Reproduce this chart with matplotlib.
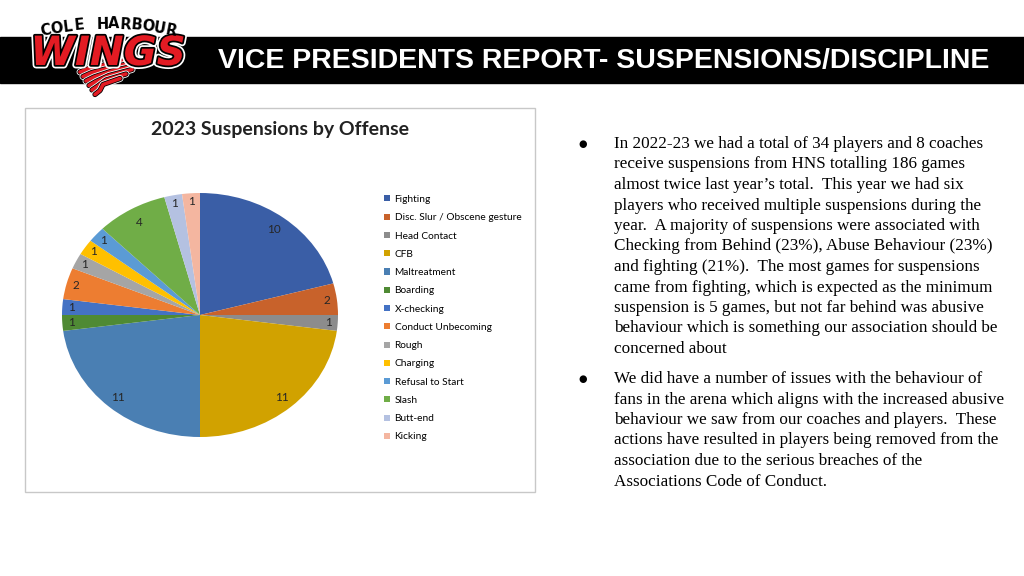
import numpy as np
import matplotlib
matplotlib.use("Agg")
import matplotlib.pyplot as plt
import matplotlib.patheffects as pe
from matplotlib.patches import Rectangle

# chart data
offenses = ["Fighting", "Disc. Slur / Obscene gesture", "Head Contact", "CFB",
            "Maltreatment", "Boarding", "X-checking", "Conduct Unbecoming",
            "Rough", "Charging", "Refusal to Start", "Slash", "Butt-end", "Kicking"]
counts = [10, 2, 1, 11, 11, 1, 1, 2, 1, 1, 1, 4, 1, 1]
colors = ["#3A5EA6", "#C8622B", "#8C8C8C", "#D1A200", "#4A7FB3", "#4F8A34",
          "#4472C4", "#ED7D31", "#A5A5A5", "#FFC000", "#5B9BD5", "#70AD47",
          "#B4C1E1", "#F4B6A0"]

title = "VICE PRESIDENTS REPORT- SUSPENSIONS/DISCIPLINE"
chart_title = "2023 Suspensions by Offense"
bullet1 = ["In 2022-23 we had a total of 34 players and 8 coaches",
           "receive suspensions from HNS totalling 186 games",
           "almost twice last year\u2019s total.  This year we had six",
           "players who received multiple suspensions during the",
           "year.  A majority of suspensions were associated with",
           "Checking from Behind (23%), Abuse Behaviour (23%)",
           "and fighting (21%).  The most games for suspensions",
           "came from fighting, which is expected as the minimum",
           "suspension is 5 games, but not far behind was abusive",
           "behaviour which is something our association should be",
           "concerned about"]
bullet2 = ["We did have a number of issues with the behaviour of",
           "fans in the arena which aligns with the increased abusive",
           "behaviour we saw from our coaches and players.  These",
           "actions have resulted in players being removed from the",
           "association due to the serious breaches of the",
           "Associations Code of Conduct."]

fig = plt.figure(figsize=(10.24, 5.76), dpi=100)
bg = fig.add_axes([0, 0, 1, 1])
bg.set_xlim(0, 1024)
bg.set_ylim(576, 0)
bg.axis("off")

# header banner
bg.add_patch(Rectangle((0, 37), 1024, 46, color="black"))
bg.text(218, 61, title, color="white", fontsize=20.5, fontweight="bold",
        family="Liberation Sans", va="center", ha="left")

# logo (rough)
red = "#E31B23"
for k in range(6):
    y0 = 60 + k * 4.5
    bg.plot([150 - k * 6, 118 - k * 3, 90 + k * 2, 80 + k * 3],
            [y0 - 4, y0 + 2, y0 + 8, y0 + 12],
            color=red, lw=2.6, solid_capstyle="round", zorder=3,
            path_effects=[pe.Stroke(linewidth=5, foreground="white"),
                          pe.Stroke(linewidth=3.8, foreground="black"), pe.Normal()])
bg.text(108, 54, "WINGS", color=red, fontsize=29, fontweight="heavy",
        style="italic", family="DejaVu Sans", ha="center", va="center", zorder=4,
        path_effects=[pe.Stroke(linewidth=5, foreground="white"),
                      pe.Stroke(linewidth=2.5, foreground="black"), pe.Normal()])
word = "COLE HARBOUR"
rad = 320
for i, ch in enumerate(word):
    ang = (i - (len(word) - 1) / 2) * 11.5 / rad
    x = 108 + rad * np.sin(ang)
    y = 24 + rad - rad * np.cos(ang)
    bg.text(x, y, ch, fontsize=10.5, fontweight="heavy", family="DejaVu Sans",
            ha="center", va="center", rotation=-np.degrees(ang), zorder=4)

# chart frame
bg.add_patch(Rectangle((25, 108), 510, 384, fill=False, edgecolor="#C8C8C8", lw=1))
bg.text(280, 130, chart_title, fontsize=14, fontweight="bold", family="Lato",
        ha="center", va="center", color="#222222")

# pie
ax = fig.add_axes([62 / 1024, 1 - 437 / 576, 276 / 1024, 244 / 576])
wedges, _ = ax.pie(counts, colors=colors, startangle=90, counterclock=False,
                   radius=1)
ax.set_aspect("auto")
ax.set_xlim(-1, 1)
ax.set_ylim(-1, 1)
for w, v in zip(wedges, counts):
    mid = np.radians((w.theta1 + w.theta2) / 2)
    if v >= 11:
        r = 0.9
    elif v >= 4:
        r = 0.88
    else:
        r = 0.93
    ax.text(r * np.cos(mid), r * np.sin(mid), str(v), ha="center", va="center",
            fontsize=8.5, family="Lato", color="#262626")

fig.legend(wedges, offenses, loc="upper left",
           bbox_to_anchor=(384 / 1024, 1 - 195 / 576), frameon=False,
           prop={"family": "Lato", "size": 7.25}, handlelength=0.55,
           handleheight=0.55, handletextpad=0.5, labelspacing=0.92,
           borderpad=0, borderaxespad=0)

# bullet text
serif = ["Liberation Serif", "DejaVu Serif"]
bg.text(583, 144, "\u25cf", fontsize=7, ha="center", va="center")
for i, line in enumerate(bullet1):
    bg.text(614, 144 + i * 20.5, line, fontsize=12.3, family=serif,
            ha="left", va="center")
bg.text(583, 379, "\u25cf", fontsize=7, ha="center", va="center")
for i, line in enumerate(bullet2):
    bg.text(614, 379 + i * 20.5, line, fontsize=12.3, family=serif,
            ha="left", va="center")

fig.savefig("out.png", dpi=100)
